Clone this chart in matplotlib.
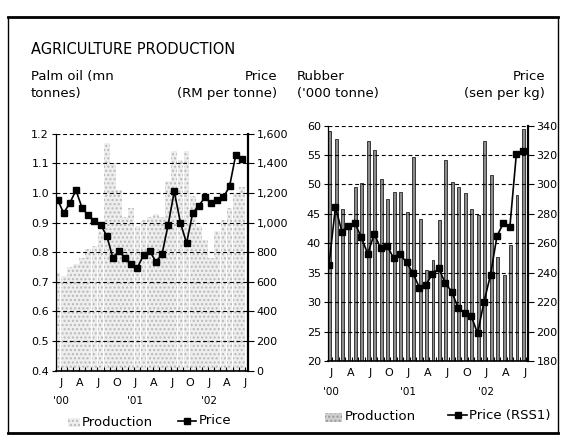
import matplotlib
matplotlib.use("Agg")
import matplotlib.pyplot as plt
import numpy as np
from matplotlib.lines import Line2D
from matplotlib.patches import Rectangle

# ── data (monthly, Jan 2000 - Jul 2002) ──────────────────────────────────────
months = np.arange(31)

palm_prod = [0.73, 0.72, 0.75, 0.76, 0.78, 0.81, 0.82, 0.87, 1.17, 1.10,
             1.01, 0.92, 0.95, 0.89, 0.91, 0.92, 0.93, 0.92, 1.04, 1.14,
             1.11, 1.14, 0.99, 0.89, 0.84, 0.78, 0.87, 0.91, 0.95, 1.00, 1.02]
palm_price = [1155, 1064, 1132, 1218, 1098, 1048, 1012, 985, 912, 763,
              808, 758, 718, 695, 781, 810, 735, 785, 985, 1210,
              1000, 860, 1065, 1115, 1170, 1130, 1150, 1170, 1245, 1455, 1430]

rubber_prod = [59.0, 57.8, 45.9, 43.4, 49.6, 50.2, 57.3, 55.9, 51.0, 47.6,
               48.8, 48.8, 45.4, 54.7, 44.2, 35.5, 37.2, 44.0, 54.2, 50.5,
               49.6, 48.5, 45.9, 44.8, 57.3, 51.6, 37.7, 34.6, 39.7, 48.2, 59.5]
rubber_price = [245.3, 284.5, 268.0, 271.8, 274.0, 264.0, 252.8, 266.4, 256.6, 258.5,
                249.8, 252.6, 247.0, 239.6, 229.9, 231.7, 239.2, 243.0, 232.8, 227.2,
                215.8, 212.9, 210.8, 198.8, 220.4, 238.5, 265.0, 273.7, 271.4, 320.8, 322.4]

qtr_labels = ["J", "A", "J", "O", "J", "A", "J", "O", "J", "A", "J"]
year_labels = ["'00", "'01", "'02"]

palm_ticks = [0.4, 0.5, 0.6, 0.7, 0.8, 0.9, 1.0, 1.1, 1.2]
palm_price_ticks = [0, 200, 400, 600, 800, 1000, 1200, 1400, 1600]
rubber_ticks = [20, 25, 30, 35, 40, 45, 50, 55, 60]
rubber_price_ticks = [180, 200, 220, 240, 260, 280, 300, 320, 340]

W, H = 566, 438
plt.rcParams["font.family"] = ["DejaVu Sans"]


def fx(x):
    return x / W


def fy(y):
    return 1 - y / H


fig = plt.figure(figsize=(W / 100, H / 100), dpi=100, facecolor="white")

DASH = (0, (3.5, 2.5))


def style_pair(ax, axp, lab_off, yt, ylabels, pt, plabels):
    ax.set_xlim(-0.25, 31.0)
    ax.set_yticks(yt)
    ax.set_yticklabels(ylabels, fontsize=8)
    axp.set_yticks(pt)
    axp.set_yticklabels(plabels, fontsize=8)
    axp.set_ylim(pt[0], pt[-1])
    ax.set_ylim(yt[0], yt[-1])
    for a in (ax, axp):
        a.spines["top"].set_visible(False)
    ax.spines["right"].set_visible(False)
    axp.spines["left"].set_visible(False)
    axp.spines["bottom"].set_visible(False)
    axp.spines["right"].set_linewidth(1.6)
    ax.spines["left"].set_linewidth(0.9)
    ax.spines["bottom"].set_linewidth(1.2)
    ax.tick_params(axis="y", length=3, width=0.8, pad=2)
    axp.tick_params(axis="y", length=4, width=0.8, pad=2)
    axp.yaxis.grid(True, ls=DASH, color="black", lw=0.8)
    axp.set_axisbelow(False)
    # quarter labels + month ticks
    ax.set_xticks([3 * k + lab_off for k in range(11)])
    ax.set_xticklabels(qtr_labels, fontsize=8)
    ax.tick_params(axis="x", which="major", length=0, pad=5)
    ax.set_xticks(months + 0.5, minor=True)
    ax.tick_params(axis="x", which="minor", direction="in", length=3, width=0.8)
    for k, yl in enumerate(year_labels):
        ax.annotate(yl, xy=(12 * k + lab_off, 0), xycoords=("data", "axes fraction"),
                    xytext=(0, -22), textcoords="offset points",
                    ha="center", va="center", fontsize=7.5)


# ── palm oil panel ───────────────────────────────────────────────────────────
ax1 = fig.add_axes([fx(56), fy(370.7), fx(248) - fx(56), fy(133.7) - fy(370.7)])
ax1.bar(months, palm_prod, width=0.92, color="#eeeeee", edgecolor="#b8b8b8",
        hatch="....", lw=0)
ax1p = ax1.twinx()
ax1p.plot(months, palm_price, color="black", lw=1.2, marker="s", ms=4.5)
style_pair(ax1, ax1p, 0.6, palm_ticks, [f"{v:.1f}" for v in palm_ticks],
           palm_price_ticks, [f"{v:,}" for v in palm_price_ticks])

# ── rubber panel ─────────────────────────────────────────────────────────────
ax2 = fig.add_axes([fx(328), fy(361), fx(528) - fx(328), fy(125.6) - fy(361)])
ax2.bar(months + 0.1, rubber_prod, width=0.45, color="#8c8c8c", edgecolor="#222222",
        lw=0.6, bottom=0)
ax2p = ax2.twinx()
ax2p.plot(months, rubber_price, color="black", lw=1.2, marker="s", ms=4.5)
style_pair(ax2, ax2p, 0.3, rubber_ticks, [str(v) for v in rubber_ticks],
           rubber_price_ticks, [str(v) for v in rubber_price_ticks])
ax2.set_xlim(-0.15, 30.8)

# ── headings ─────────────────────────────────────────────────────────────────
fig.text(fx(31), fy(50), "AGRICULTURE PRODUCTION", fontsize=10.5, va="center", ha="left")
fig.text(fx(31), fy(85), "Palm oil (mn\ntonnes)", fontsize=9.5, va="center", ha="left",
         linespacing=1.35)
fig.text(fx(277), fy(85), "Price\n(RM per tonne)", fontsize=9.5, va="center", ha="right",
         linespacing=1.35, multialignment="right")
fig.text(fx(297), fy(85), "Rubber\n('000 tonne)", fontsize=9.5, va="center", ha="left",
         linespacing=1.35)
fig.text(fx(545), fy(85), "Price\n(sen per kg)", fontsize=9.5, va="center", ha="right",
         linespacing=1.35, multialignment="right")

# ── legends ──────────────────────────────────────────────────────────────────
def legend_patch(x0, x1, yc, face, edge, hatch, lw):
    fig.add_artist(Rectangle((fx(x0), fy(yc + 4.5)), fx(x1) - fx(x0), 9 / H,
                             facecolor=face, edgecolor=edge, hatch=hatch, lw=lw,
                             transform=fig.transFigure))


def legend_line(x0, x1, yc):
    fig.add_artist(Line2D([fx(x0), fx(x1)], [fy(yc), fy(yc)], color="black", lw=1.2,
                          transform=fig.transFigure))
    fig.add_artist(Line2D([fx((x0 + x1) / 2)], [fy(yc)], color="black", marker="s",
                          ms=4.5, transform=fig.transFigure))


legend_patch(68, 80, 422, "#eeeeee", "#b8b8b8", "....", 0)
fig.text(fx(82), fy(422), "Production", fontsize=9.5, va="center")
legend_line(178, 196, 421)
fig.text(fx(199), fy(421), "Price", fontsize=9.5, va="center")

legend_patch(325, 342, 417, "#cfcfcf", "#999999", "....", 0)
fig.text(fx(345), fy(417), "Production", fontsize=9.5, va="center")
legend_line(448, 467, 415)
fig.text(fx(469), fy(415), "Price (RSS1)", fontsize=9.5, va="center")

# ── outer frame ──────────────────────────────────────────────────────────────
for (x0, y0, x1, y1, lw) in [(8, 17, 558, 17, 2.0), (8, 433, 558, 433, 2.0),
                             (8, 17, 8, 433, 1.0), (558, 17, 558, 433, 1.0)]:
    fig.add_artist(Line2D([fx(x0), fx(x1)], [fy(y0), fy(y1)], color="black", lw=lw,
                          transform=fig.transFigure))

fig.savefig("out.png", dpi=100, facecolor="white")
